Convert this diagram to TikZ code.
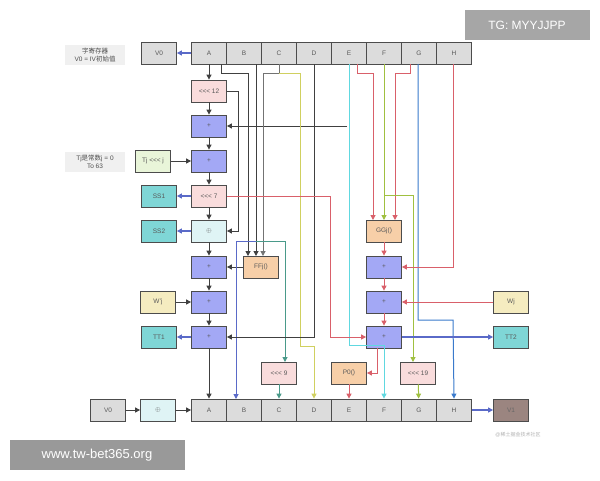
\documentclass[tikz,border=0pt]{standalone}
\usepackage{fontspec}
\setmainfont{Liberation Sans}
\newfontfamily\cjk{Noto Sans CJK SC}
\usetikzlibrary{arrows.meta}
\definecolor{regc}{HTML}{DCDCDC}
\definecolor{plusc}{HTML}{A3A8F5}
\definecolor{rotc}{HTML}{F9DCDC}
\definecolor{xorc}{HTML}{DFF4F5}
\definecolor{fnc}{HTML}{F7CFA8}
\definecolor{ssc}{HTML}{7FD6D6}
\definecolor{wc}{HTML}{F5ECC0}
\definecolor{tjc}{HTML}{E9F5D9}
\definecolor{v1c}{HTML}{9B8580}
\definecolor{redl}{HTML}{D9606A}
\definecolor{bluel}{HTML}{5A6AC8}
\definecolor{cyanl}{HTML}{60D8E0}
\definecolor{yell}{HTML}{D0D060}
\definecolor{grnl}{HTML}{A0C040}
\definecolor{tealc}{HTML}{4A9A8A}
\definecolor{gbl}{HTML}{3A7ACC}
\newcommand{\rl}{{<}{<}{<}}
\tikzset{
 bx/.style={draw=black!70,line width=0.8pt,minimum width=35pt,minimum height=22pt,inner sep=0pt,font=\fontsize{6.5}{7}\selectfont,text=black!65},
 reg/.style={bx,fill=regc},
 pl/.style={bx,fill=plusc},
 rot/.style={bx,fill=rotc},
 xr/.style={bx,fill=xorc},
 fn/.style={bx,fill=fnc},
 ss/.style={bx,fill=ssc},
 wj/.style={bx,fill=wc},
 ar/.style={-{Triangle[length=5pt,width=5pt]},line width=1pt},
 k/.style={ar,draw=black!75},
 rd/.style={ar,draw=redl},
 bl/.style={ar,draw=bluel,line width=1.3pt},
 lab/.style={fill=black!6,font=\fontsize{6.5}{8}\selectfont,text=black!70,align=center,minimum width=60pt}
}
\begin{document}
\begin{tikzpicture}[x=1pt,y=-1pt]
\useasboundingbox (0,0) rectangle (600,480);
\fill[white] (0,0) rectangle (600,480);
% top registers
\node[reg] (tV0) at (159,53) {V0};
\foreach \n/\x in {A/209,B/244,C/279,D/314,E/349,F/384,G/419,H/454}{
 \node[reg] (t\n) at (\x,53) {\n};
 \node[reg] (b\n) at (\x,410) {\n};
}
\node[reg] (bV0) at (108,410) {V0};
\node[xr] (bx) at (158,410) {$\oplus$};
\node[bx,fill=v1c,text=black!60] (V1) at (511,410) {V1};
\node[lab] (l1) at (95,55) {{\cjk 字寄存器}\\V0 = IV{\cjk 初始值}};
\node[lab] (l2) at (95,162) {Tj{\cjk 是常数}j = 0\\To 63};
% left column
\node[rot] (s12) at (209,91) {\rl{} 12};
\node[pl] (p1) at (209,126) {+};
\node[pl] (p2) at (209,161) {+};
\node[rot] (s7) at (209,196) {\rl{} 7};
\node[xr] (x1) at (209,231) {$\oplus$};
\node[pl] (p3) at (209,267) {+};
\node[pl] (p4) at (209,302) {+};
\node[pl] (p5) at (209,337) {+};
\node[bx,fill=tjc] (tj) at (153,161) {Tj \rl{} j};
\node[ss] (ss1) at (159,196) {SS1};
\node[ss] (ss2) at (159,231) {SS2};
\node[wj] (wpj) at (158,302) {W'j};
\node[ss] (tt1) at (159,337) {TT1};
\node[fn] (ff) at (261,267) {FFj()};
% right column
\node[fn] (gg) at (384,231) {GGj()};
\node[pl] (q1) at (384,267) {+};
\node[pl] (q2) at (384,302) {+};
\node[pl] (q3) at (384,337) {+};
\node[wj] (wj) at (511,302) {Wj};
\node[ss] (tt2) at (511,337) {TT2};
\node[rot] (s9) at (279,373) {\rl{} 9};
\node[fn] (p0) at (349,373) {P0()};
\node[rot] (s19) at (418,373) {\rl{} 19};
% main chain
\draw[bl] (tA) -- (tV0);
\draw[k] (tA) -- (s12);
\draw[k] (s12) -- (p1);
\draw[k] (p1) -- (p2);
\draw[k] (p2) -- (s7);
\draw[k] (s7) -- (x1);
\draw[k] (x1) -- (p3);
\draw[k] (p3) -- (p4);
\draw[k] (p4) -- (p5);
\draw[k] (p5) -- (bA);
\draw[k] (s12.east) -- (238,91) -- (238,231) -- (x1.east);
\draw[k] (tj) -- (p2);
\draw[bl] (s7) -- (ss1);
\draw[bl] (x1) -- (ss2);
\draw[k] (wpj) -- (p4);
\draw[bl] (p5) -- (tt1);
\draw[k] (ff) -- (p3);
% E
\draw[ar,draw=cyanl] (349,64) -- (349,345) -- (384,345) -- (bF.north);
\draw[k] (347,126) -- (p1.east);
% A,B,C -> FF
\draw[k] (221,64) -- (221,73) -- (248,73) -- (248,256);
\draw[k] (256,64) -- (256,256);
\draw[ar,draw=black!55] (279,64) -- (279,73) -- (263,73) -- (263,256);
\draw[ar,draw=bluel] (256,241) -- (236,241) -- (236,399);
\draw[ar,draw=tealc] (256,241) -- (285,241) -- (285,362);
\draw[ar,draw=tealc] (s9) -- (bC);
\draw[ar,draw=yell] (279,73) -- (300,73) -- (300,346) -- (314,346) -- (bD.north);
\draw[k] (tD) -- (314,337) -- (p5.east);
% right
\draw[rd] (s7.east) -- (330,196) -- (330,337) -- (q3.west);
\draw[rd] (357,64) -- (357,73) -- (373,73) -- (373,220);
\draw[ar,draw=grnl] (384,64) -- (384,220);
\draw[rd] (410,64) -- (410,73) -- (395,73) -- (395,220);
\draw[ar,draw=grnl] (384,195) -- (413,195) -- (413,362);
\draw[ar,draw=grnl] (s19) -- (bG);
\draw[ar,draw=gbl] (418,64) -- (418,320) -- (453,320) -- (bH.north);
\draw[rd] (453,64) -- (453,267) -- (q1.east);
\draw[rd] (gg) -- (q1);
\draw[rd] (q1) -- (q2);
\draw[rd] (q2) -- (q3);
\draw[rd] (wj) -- (q2);
\draw[bl] (q3) -- (tt2);
\draw[rd] (377,348) -- (377,373) -- (p0.east);
\draw[rd] (p0) -- (bE);
% bottom
\draw[k] (bV0) -- (bx);
\draw[k] (bx) -- (bA);
\draw[bl] (bH) -- (V1);
% watermarks
\node[fill=black!35,text=white,minimum width=125pt,minimum height=30pt,font=\fontsize{12}{14}\selectfont] (wm1) at (527,25) {TG: MYYJJPP};
\node[fill=black!40,text=white,minimum width=175pt,minimum height=30pt,font=\fontsize{13}{15}\selectfont] (wm2) at (97,455) {www.tw-bet365.org};
\node[text=black!30,font=\fontsize{5}{6}\selectfont] (wm3) at (518,435) {@{\cjk 稀土掘金技术社区}};
\end{tikzpicture}
\end{document}
